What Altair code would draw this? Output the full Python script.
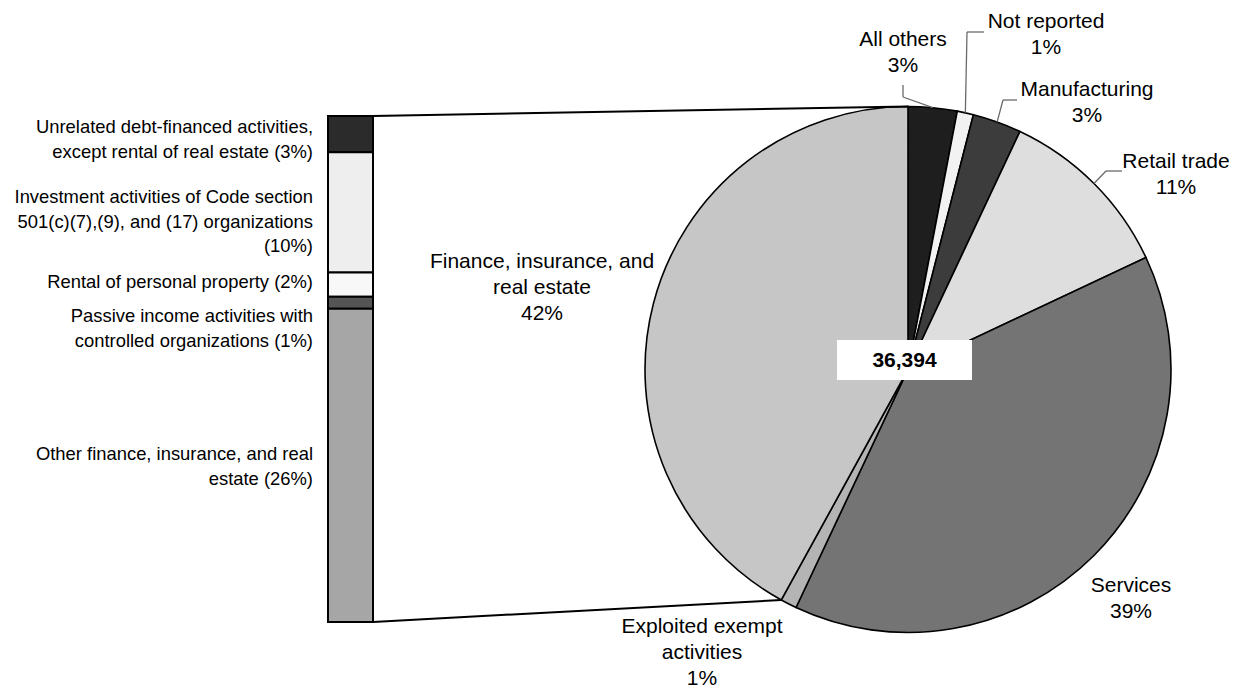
import altair as alt
import pandas as pd
import numpy as np

# ---------------- data ----------------
pie_categories = ["All others", "Not reported", "Manufacturing", "Retail trade",
                  "Services", "Exploited exempt activities",
                  "Finance, insurance, and real estate"]
pie_pct = [3, 1, 3, 11, 39, 1, 42]
pie_label_text = ["All others\n3%", "Not reported\n1%", "Manufacturing\n3%",
                  "Retail trade\n11%", "Services\n39%",
                  "Exploited exempt\nactivities\n1%",
                  "Finance, insurance, and\nreal estate\n42%"]

bar_categories = ["Unrelated debt-financed activities, except rental of real estate",
                  "Investment activities of Code section 501(c)(7),(9), and (17) organizations",
                  "Rental of personal property",
                  "Passive income activities with controlled organizations",
                  "Other finance, insurance, and real estate"]
bar_pct = [3, 10, 2, 1, 26]
bar_label_text = ["Unrelated debt-financed activities,\nexcept rental of real estate (3%)",
                  "Investment activities of Code section\n501(c)(7),(9), and (17) organizations\n(10%)",
                  "Rental of personal property (2%)",
                  "Passive income activities with\ncontrolled organizations (1%)",
                  "Other finance, insurance, and real\nestate (26%)"]

total_returns = [36394]

# ---------------- styles / layout ----------------
pie_colors = ["#1e1e1e", "#f2f2f2", "#3c3c3c", "#dedede", "#747474", "#b4b4b4", "#c6c6c6"]
bar_colors = ["#2b2b2b", "#eeeeee", "#f8f8f8", "#555555", "#a6a6a6"]

OFF = 8
W, H = 1223, 682
def P(v):
    return v - OFF

CX, CY, R = P(908), P(369.5), 263
BAR_X0, BAR_X1 = P(328), P(373)
BAR_TOP, BAR_BOT = P(116), P(622)
FONT = "Liberation Sans"
FS_PIE = 21
FS_BAR = 18.4

# first-line centres of the labels (page pixels)
pie_label_pos = [(903, 40), (1046, 22), (1087, 90), (1176, 162), (1131, 586),
                 (702, 627), (542, 262)]
pie_line_height = 26
leader_elbows = [[(903, 85), (903, 97)], [(984, 32), (967, 32)],
                 [(1017, 100), (1003, 100)], [(1122, 171), (1106, 171)]]
bar_label_pos = [(313, 127), (313, 197), (313, 282), (313, 316), (313, 454)]
box = (837, 972, 340, 380)

# ---------------- derived tables ----------------
pie_df = pd.DataFrame({"cat": pie_categories, "pct": pie_pct,
                       "ord": list(range(len(pie_pct))), "color": pie_colors})

cum = np.cumsum([0] + pie_pct)
def pie_point(frac):
    a = frac / 100.0 * 2 * np.pi
    return CX + R * np.sin(a), CY - R * np.cos(a)

segs = []
# leader lines: slice mid-point -> elbow -> end
for i, el in enumerate(leader_elbows):
    mx, my = pie_point((cum[i] + cum[i + 1]) / 2)
    pts = [(mx, my)] + [(P(x), P(y)) for x, y in reversed(el)]
    for (a, b), (c, d) in zip(pts[:-1], pts[1:]):
        segs.append({"x": a, "y": b, "x2": c, "y2": d, "kind": "leader"})
# connector lines bar -> pie (finance slice edges)
fin_start = cum[pie_categories.index("Finance, insurance, and real estate")]
tx, ty = pie_point(0)
bx, by = pie_point(fin_start)
segs.append({"x": BAR_X1, "y": BAR_TOP, "x2": tx, "y2": ty, "kind": "conn"})
segs.append({"x": BAR_X1, "y": BAR_BOT, "x2": bx, "y2": by, "kind": "conn"})
seg_df = pd.DataFrame(segs)

bar_cum = np.cumsum([0] + bar_pct)
bar_df = pd.DataFrame({"cat": bar_categories, "start": bar_cum[:-1], "end": bar_cum[1:],
                       "color": bar_colors})

pie_lab_df = pd.DataFrame({"text": pie_label_text,
                           "x": [P(x) for x, _ in pie_label_pos],
                           "y": [P(y) for _, y in pie_label_pos]})
bar_lab_df = pd.DataFrame({"text": bar_label_text,
                           "x": [P(x) for x, _ in bar_label_pos],
                           "y": [P(y) for _, y in bar_label_pos]})
total_df = pd.DataFrame({"total": total_returns})

xs = alt.Scale(domain=[0, W], range=[0, W], nice=False, zero=False)
ys = alt.Scale(domain=[0, H], range=[0, H], nice=False, zero=False)

# ---------------- layers ----------------
pie = alt.Chart(pie_df).mark_arc(stroke="black", strokeWidth=1.6).encode(
    theta=alt.Theta("pct:Q", stack=True, scale=alt.Scale(domain=[0, 100])),
    order=alt.Order("ord:Q"),
    fill=alt.Fill("color:N", scale=None),
    x=alt.value(CX), y=alt.value(CY), radius=alt.value(R),
)

bar = alt.Chart(bar_df).mark_rect(stroke="black", strokeWidth=2).encode(
    y=alt.Y("start:Q", scale=alt.Scale(domain=[0, sum(bar_pct)], range=[BAR_TOP, BAR_BOT],
                                       nice=False, zero=True), axis=None),
    y2="end:Q",
    x=alt.value(BAR_X0), x2=alt.value(BAR_X1),
    fill=alt.Fill("color:N", scale=None),
)

lines = alt.Chart(seg_df).mark_rule().encode(
    x=alt.X("x:Q", scale=xs, axis=None), y=alt.Y("y:Q", scale=ys, axis=None),
    x2="x2:Q", y2="y2:Q",
    color=alt.Color("kind:N", scale=alt.Scale(domain=["leader", "conn"],
                                              range=["#6a6a6a", "#000000"]), legend=None),
    strokeWidth=alt.StrokeWidth("kind:N", scale=alt.Scale(domain=["leader", "conn"],
                                                          range=[1.3, 2]), legend=None),
)

pie_labels = alt.Chart(pie_lab_df).mark_text(
    font=FONT, fontSize=FS_PIE, align="center", baseline="middle", lineBreak="\n",
    lineHeight=pie_line_height, color="black").encode(
    x=alt.X("x:Q", scale=xs, axis=None), y=alt.Y("y:Q", scale=ys, axis=None), text="text:N")

bar_labels = alt.Chart(bar_lab_df).mark_text(
    font=FONT, fontSize=FS_BAR, align="right", baseline="middle", lineBreak="\n",
    lineHeight=24.5, color="black").encode(
    x=alt.X("x:Q", scale=xs, axis=None), y=alt.Y("y:Q", scale=ys, axis=None), text="text:N")

total_box = alt.Chart(total_df).mark_rect(fill="white").encode(
    x=alt.value(P(box[0])), x2=alt.value(P(box[1])),
    y=alt.value(P(box[2])), y2=alt.value(P(box[3])))
total_text = alt.Chart(total_df).mark_text(
    font=FONT, fontSize=21, fontWeight="bold", align="center", baseline="middle",
    color="black").encode(
    x=alt.value(P((box[0] + box[1]) / 2)), y=alt.value(P((box[2] + box[3]) / 2) + 1),
    text=alt.Text("total:Q", format=","))

chart = alt.layer(pie, bar, lines, pie_labels, bar_labels, total_box, total_text).resolve_scale(
    x="independent", y="independent", color="independent"
).properties(
    width=W, height=H, padding=0, autosize=alt.AutoSizeParams(type="none"),
    background="white"
).configure_view(stroke=None)

chart.save("out.html", embed_options={"renderer": "svg", "actions": False})
